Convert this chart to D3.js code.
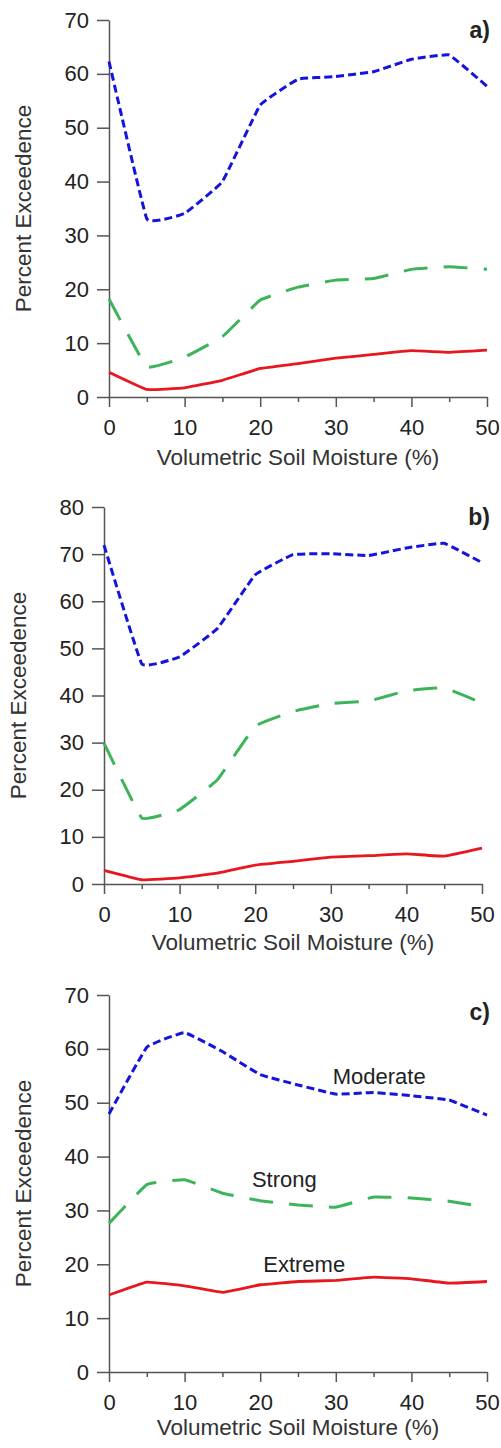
<!DOCTYPE html>
<html>
<head>
<meta charset="utf-8">
<script src="https://cdn.jsdelivr.net/npm/d3@7"></script>
<style>
  html, body { margin: 0; padding: 0; background: #fff; }
  svg { display: block; font-family: "Liberation Sans", Arial, sans-serif; }
</style>
</head>
<body>
<svg id="chart" width="501" height="1448"></svg>
<script>
// Soil moisture bins (%)
const moisture = [0, 5, 10, 15, 20, 25, 30, 35, 40, 45, 50]
const xTicks = [0, 10, 20, 30, 40, 50]
const xMinorTicks = [5, 15, 25, 35, 45]

// Panel a
const moderateA = [62.3, 33.1, 34.1, 40.0, 54.2, 59.0, 59.5, 60.4, 62.7, 63.5, 57.7]
const strongA = [18.2, 5.6, 7.4, 11.2, 18.0, 20.4, 21.7, 22.0, 23.7, 24.2, 23.7]
const extremeA = [4.6, 1.4, 1.7, 3.1, 5.3, 6.2, 7.2, 7.9, 8.6, 8.3, 8.7]
const yTicksA = [0, 10, 20, 30, 40, 50, 60, 70]

// Panel b
const moderateB = [71.9, 46.7, 48.2, 54.2, 65.6, 69.9, 70.1, 69.7, 71.3, 72.3, 68.2]
const strongB = [29.9, 14.0, 15.8, 22.1, 33.5, 36.6, 38.3, 38.8, 41.0, 41.6, 38.4]
const extremeB = [2.9, 0.9, 1.3, 2.3, 4.0, 4.8, 5.7, 6.0, 6.4, 5.9, 7.6]
const yTicksB = [0, 10, 20, 30, 40, 50, 60, 70, 80]

// Panel c
const moderateC = [47.9, 60.3, 63.0, 59.5, 55.2, 53.3, 51.6, 51.9, 51.3, 50.5, 47.7]
const strongC = [27.6, 34.8, 35.7, 33.2, 31.8, 31.0, 30.6, 32.5, 32.3, 31.7, 30.6]
const extremeC = [14.3, 16.7, 16.0, 14.8, 16.2, 16.8, 17.0, 17.6, 17.3, 16.5, 16.8]
const yTicksC = [0, 10, 20, 30, 40, 50, 60, 70]

const seriesStyle = {
  moderate: { color: "#1414dc", width: 3, dash: "8,4" },
  strong:   { color: "#3cb45a", width: 3, dash: "24,16" },
  extreme:  { color: "#e8161e", width: 2.8, dash: null }
}

const panels = [
  { label: "a)", left: 109, right: 487, top: 20, bottom: 397, ticks: yTicksA,
    series: { moderate: moderateA, strong: strongA, extreme: extremeA },
    titleX: 31, xTitleOffset: 68, labelOffset: 18 },
  { label: "b)", left: 104, right: 482, top: 507, bottom: 884, ticks: yTicksB,
    series: { moderate: moderateB, strong: strongB, extreme: extremeB },
    titleX: 26, xTitleOffset: 66, labelOffset: 18 },
  { label: "c)", left: 109, right: 487, top: 995, bottom: 1372, ticks: yTicksC,
    series: { moderate: moderateC, strong: strongC, extreme: extremeC },
    titleX: 31, xTitleOffset: 63, labelOffset: 25,
    names: [
      { text: "Moderate", x: 29.6, y: 53.5 },
      { text: "Strong", x: 18.9, y: 34.3 },
      { text: "Extreme", x: 20.4, y: 18.6 }
    ] }
]

const svg = d3.select("#chart")
const axisColor = "#555"
const textColor = "#222"

panels.forEach(p => {
  const x = d3.scaleLinear().domain([0, 50]).range([p.left, p.right])
  const y = d3.scaleLinear().domain([0, d3.max(p.ticks)]).range([p.bottom, p.top])

  const g = svg.append("g")

  // Y axis
  const yAxis = g.append("g")
    .attr("transform", `translate(${p.left},0)`)
    .call(d3.axisLeft(y).tickValues(p.ticks).tickSize(12).tickSizeOuter(0).tickPadding(8))

  // X axis (major + minor)
  const xAxis = g.append("g")
    .attr("transform", `translate(0,${p.bottom})`)
    .call(d3.axisBottom(x).tickValues(xTicks).tickSize(10).tickSizeOuter(0).tickPadding(12))

  const xMinor = g.append("g")
    .attr("transform", `translate(0,${p.bottom})`)
    .call(d3.axisBottom(x).tickValues(xMinorTicks).tickSize(5).tickSizeOuter(0).tickFormat(""))
  xMinor.select(".domain").remove()

  ;[yAxis, xAxis, xMinor].forEach(a => a.attr("font-family", null).attr("font-size", null))
  g.selectAll(".tick text").style("font-size", "22px").style("fill", textColor)
  g.selectAll(".domain, .tick line")
    .style("stroke", axisColor)
    .style("stroke-width", 1.5)

  // Lines
  const line = d3.line()
    .x((d, i) => x(moisture[i]))
    .y(d => y(d))
    .curve(d3.curveCardinal.tension(0.75))

  ;["strong", "extreme", "moderate"].forEach(key => {
    const s = seriesStyle[key]
    g.append("path")
      .datum(p.series[key])
      .attr("d", line)
      .attr("fill", "none")
      .attr("stroke", s.color)
      .attr("stroke-width", s.width)
      .attr("stroke-dasharray", s.dash)
      .attr("stroke-linejoin", "round")
  })

  // Series names (panel c)
  if (p.names) {
    p.names.forEach(n => {
      g.append("text")
        .attr("x", x(n.x))
        .attr("y", y(n.y))
        .style("font-size", "22px")
        .style("fill", textColor)
        .text(n.text)
    })
  }

  // Axis titles
  g.append("text")
    .attr("x", (p.left + p.right) / 2)
    .attr("y", p.bottom + p.xTitleOffset)
    .attr("text-anchor", "middle")
    .style("font-size", "22.5px")
    .style("fill", "#333")
    .text("Volumetric Soil Moisture (%)")

  g.append("text")
    .attr("transform", `translate(${p.titleX},${(p.top + p.bottom) / 2}) rotate(-90)`)
    .attr("text-anchor", "middle")
    .style("font-size", "22.5px")
    .style("fill", "#333")
    .text("Percent Exceedence")

  // Panel label
  g.append("text")
    .attr("x", 490)
    .attr("y", p.top + p.labelOffset)
    .attr("text-anchor", "end")
    .style("font-size", "23px")
    .style("font-weight", "bold")
    .style("fill", textColor)
    .text(p.label)
})
</script>
</body>
</html>
